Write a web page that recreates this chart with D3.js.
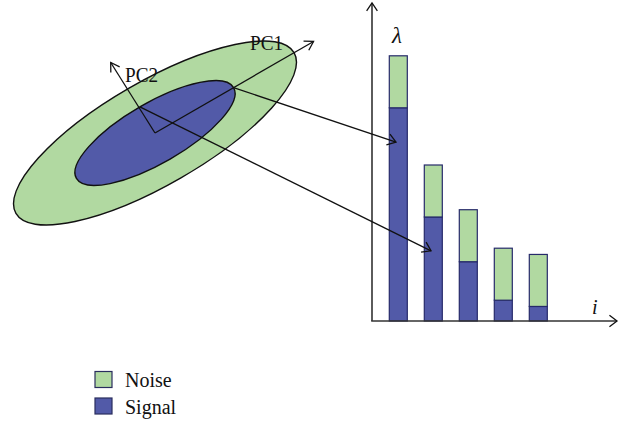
<!DOCTYPE html>
<html>
<head>
<meta charset="utf-8">
<script src="https://cdn.jsdelivr.net/npm/d3@7"></script>
<style>
  html, body { margin: 0; padding: 0; background: #fff; }
  svg { display: block; }
  text { font-family: "Liberation Serif", "DejaVu Serif", serif; fill: #111; }
</style>
</head>
<body>
<svg id="chart" width="620" height="421"></svg>
<script>
// Eigenvalue spectrum: component index, signal part and noise part of each eigenvalue
const components = [1, 2, 3, 4, 5];
const signalValues = [4.1, 2.0, 1.14, 0.4, 0.28];
const noiseValues = [1.0, 1.0, 1.0, 1.0, 1.0];
const seriesNames = ["Noise", "Signal"];

// Data cloud sketch: ellipse radii (major, minor) in cloud units, tilt in degrees
const outerRadii = [1.0, 0.323];
const innerRadii = [0.565, 0.188];
const cloudTilt = 30;
const axisLengths = [1.14, 0.53];   // PC1, PC2 arrow lengths in cloud units
// Where the projection arrows land on bars 1 and 2 (eigenvalue units)
const arrowTargets = [3.44, 1.35];

const colors = { Noise: "#b1d9a1", Signal: "#525aa8" };
const barStroke = "#262a6a";
const ink = "#111";

const svg = d3.select("#chart");

// ---------- bar chart of eigenvalues ----------
const x = d3.scaleBand().domain(components).range([389.3, 547.3])
  .paddingInner(17 / 35).paddingOuter(0);
const y = d3.scaleLinear().domain([0, 6]).range([321, 9]);

const stacked = components.map((c, i) => ({ c, signal: signalValues[i], noise: noiseValues[i] }));
const stack = d3.stack().keys(["signal", "noise"])(stacked);

const barG = svg.append("g");
stack.forEach(layer => {
  const key = layer.key === "signal" ? "Signal" : "Noise";
  barG.selectAll(null).data(layer).join("rect")
    .attr("x", d => x(d.data.c))
    .attr("width", x.bandwidth())
    .attr("y", d => y(d[1]))
    .attr("height", d => y(d[0]) - y(d[1]))
    .attr("fill", colors[key])
    .attr("stroke", barStroke)
    .attr("stroke-width", 1.2);
});

// chevron arrowhead helper
function chevron(g, tip, from, len, half) {
  const ang = Math.atan2(tip[1] - from[1], tip[0] - from[0]);
  const a1 = ang + Math.PI - half, a2 = ang + Math.PI + half;
  const p = d3.path();
  p.moveTo(tip[0] + len * Math.cos(a1), tip[1] + len * Math.sin(a1));
  p.lineTo(tip[0], tip[1]);
  p.lineTo(tip[0] + len * Math.cos(a2), tip[1] + len * Math.sin(a2));
  g.append("path").attr("d", p.toString()).attr("fill", "none")
    .attr("stroke", ink).attr("stroke-width", 1.3).attr("stroke-linejoin", "miter");
}
function arrow(g, from, tip, len, half, width) {
  g.append("line").attr("x1", from[0]).attr("y1", from[1])
    .attr("x2", tip[0]).attr("y2", tip[1])
    .attr("stroke", ink).attr("stroke-width", width || 1.3);
  chevron(g, tip, from, len, half);
}

// axes with arrowheads
const axG = svg.append("g");
const x0 = x.range()[0] - 17.3;
const yAxisTop = [x0, 3];
const xAxisEnd = [617, y(0)];
axG.append("line").attr("x1", x0).attr("y1", y(0)).attr("x2", x0).attr("y2", yAxisTop[1])
  .attr("stroke", "#333").attr("stroke-width", 1.6);
axG.append("line").attr("x1", x0 - 0.8).attr("y1", y(0)).attr("x2", xAxisEnd[0]).attr("y2", y(0))
  .attr("stroke", "#333").attr("stroke-width", 1.6);
chevron(axG, yAxisTop, [x0, y(0)], 9.5, 0.6);
chevron(axG, xAxisEnd, [x0, y(0)], 9.5, 0.65);

svg.append("text").attr("x", 392).attr("y", 43).attr("font-style", "italic")
  .attr("font-size", 23).text("λ");
svg.append("text").attr("x", 592).attr("y", 314).attr("font-style", "italic")
  .attr("font-size", 20).text("i");

// ---------- data cloud with principal axes ----------
const cloudScale = 160.6;          // px per cloud unit
const center = [155, 133];
const rad = cloudTilt * Math.PI / 180;
const u1 = [Math.cos(rad), -Math.sin(rad)];    // PC1 direction on screen
const u2 = [-Math.sin(rad), -Math.cos(rad)];   // PC2 direction on screen
const at = (a, b) => [center[0] + cloudScale * (a * u1[0] + b * u2[0]),
                      center[1] + cloudScale * (a * u1[1] + b * u2[1])];

const cloud = svg.append("g");
[[outerRadii, colors.Noise], [innerRadii, colors.Signal]].forEach(([r, fill]) => {
  cloud.append("ellipse")
    .attr("cx", center[0]).attr("cy", center[1])
    .attr("rx", r[0] * cloudScale).attr("ry", r[1] * cloudScale)
    .attr("transform", `rotate(${-cloudTilt} ${center[0]} ${center[1]})`)
    .attr("fill", fill).attr("stroke", ink).attr("stroke-width", 1.4);
});

// principal component axes
arrow(cloud, center, at(axisLengths[0], 0), 10, 0.55);
arrow(cloud, center, [center[0] - 44.3, center[1] - 70.5], 10, 0.55);
cloud.append("text").attr("x", 250).attr("y", 50).attr("font-size", 21)
  .attr("textLength", 33).attr("lengthAdjust", "spacingAndGlyphs").text("PC1");
cloud.append("text").attr("x", 125).attr("y", 81.5).attr("font-size", 21)
  .attr("textLength", 33).attr("lengthAdjust", "spacingAndGlyphs").text("PC2");

// projections of the cloud onto the eigenvalue bars
const starts = [at(innerRadii[0], 0), at(0, innerRadii[1])];
starts.forEach((s, i) => {
  const tip = [x(components[i]) + x.bandwidth() / 2 - 2.3, y(arrowTargets[i])];
  arrow(svg, s, tip, 10, 0.6);
});

// ---------- legend ----------
const legend = svg.append("g");
seriesNames.forEach((name, i) => {
  const yy = 371.5 + i * 26.5;
  legend.append("rect").attr("x", 95).attr("y", yy).attr("width", 17).attr("height", 16)
    .attr("fill", colors[name]).attr("stroke", "#2a2d5e").attr("stroke-width", 1.2);
  legend.append("text").attr("x", 125).attr("y", yy + 15.5).attr("font-size", 20).text(name);
});
</script>
</body>
</html>
